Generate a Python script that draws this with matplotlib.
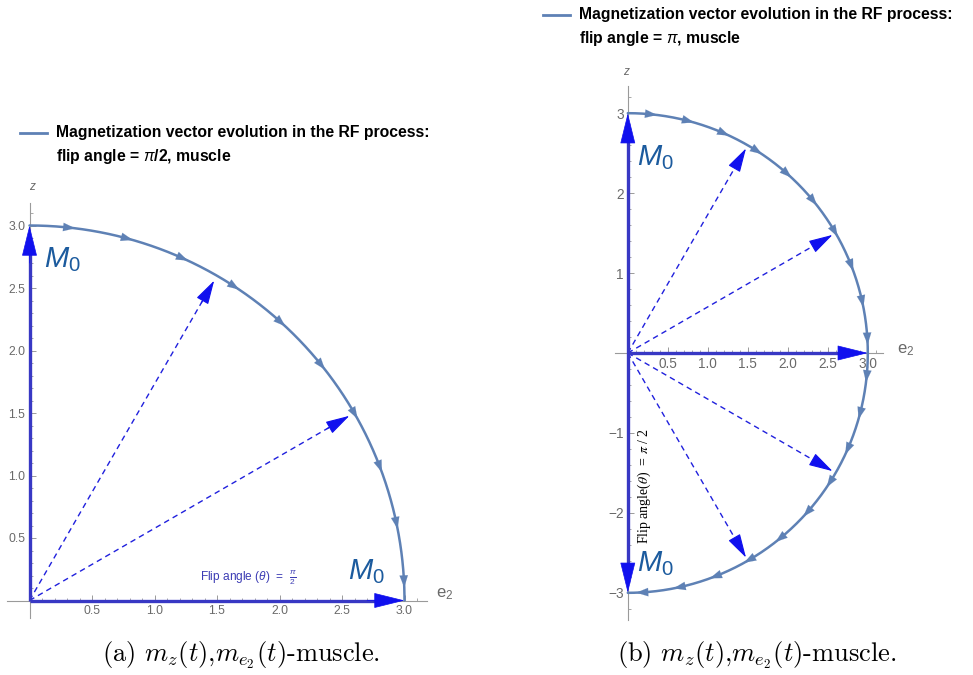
import numpy as np
import matplotlib
matplotlib.use("Agg")
import matplotlib.pyplot as plt
from matplotlib.patches import FancyArrowPatch
from matplotlib.lines import Line2D

plt.rcParams['font.family'] = ['Liberation Sans', 'DejaVu Sans']
plt.rcParams['mathtext.fontset'] = 'custom'
plt.rcParams['mathtext.rm'] = 'Liberation Sans'
plt.rcParams['mathtext.it'] = 'Liberation Sans:italic'
plt.rcParams['mathtext.bf'] = 'Liberation Sans:bold'

# ---- data ----
M0 = 3.0                                   # equilibrium magnetization magnitude
flip_a = 90.0                              # flip angle pi/2 (degrees, measured from z)
flip_b = 180.0                             # flip angle pi
snapshots_a = [30.0, 60.0]                 # intermediate vectors (degrees from z)
snapshots_b = [30.0, 60.0, 120.0, 150.0]
markers_a = [7, 16, 25, 34, 43, 52, 61, 70, 79, 88]
markers_b = markers_a + [97, 106, 115, 124, 133, 142, 151, 160, 169, 178]
xticks_a = [0.5, 1.0, 1.5, 2.0, 2.5, 3.0]
yticks_a = [0.5, 1.0, 1.5, 2.0, 2.5, 3.0]
xticks_b = [0.5, 1.0, 1.5, 2.0, 2.5, 3.0]
yticks_b = [-3, -2, -1, 1, 2, 3]
legend_a = ["Magnetization vector evolution in the RF process:",
            r"flip angle = $\pi$/2, muscle"]
legend_b = ["Magnetization vector evolution in the RF process:",
            r"flip angle = $\pi$, muscle"]
caption_a = r"$\text{(a) }m_z(t)\text{,}m_{e_2}(t)\text{-muscle.}$"
caption_b = r"$\text{(b) }m_z(t)\text{,}m_{e_2}(t)\text{-muscle.}$"

CURVE = '#5e81b5'
VEC = '#3838c4'
HEAD = '#1010ee'
DASH = '#2020dd'
MLAB = '#1c5b9e'
TICK = '#9a9a9a'
TLAB = '#6a6a6a'


def pt(theta_deg, r=M0):
    t = np.deg2rad(theta_deg)
    return r * np.sin(t), r * np.cos(t)


def style_axes(ax, xt, yt, xminor, yminor, lsize):
    for s in ('top', 'right'):
        ax.spines[s].set_visible(False)
    for s in ('left', 'bottom'):
        ax.spines[s].set_position(('data', 0))
        ax.spines[s].set_color(TICK)
        ax.spines[s].set_linewidth(0.8)
    ax.set_xticks(xt)
    ax.set_yticks(yt)
    ax.set_xticks(xminor, minor=True)
    ax.set_yticks(yminor, minor=True)
    ax.tick_params(which='major', direction='in', length=4, width=0.7,
                   color=TICK, labelcolor=TLAB, labelsize=lsize, pad=3)
    ax.tick_params(which='minor', direction='in', length=2.2, width=0.6,
                   color=TICK)
    ax.patch.set_alpha(0)


def vector(ax, p0, p1, color, lw, hl, hw, ms=10, z=4):
    a = FancyArrowPatch(p0, p1, arrowstyle=f'-|>,head_length={hl},head_width={hw}',
                        mutation_scale=ms, color=color, lw=lw,
                        shrinkA=0, shrinkB=0, zorder=z)
    ax.add_patch(a)


def axis_vector(ax, p1):
    ax.plot([0, p1[0] * 0.96], [0, p1[1] * 0.96], color=VEC, lw=2.4, zorder=4,
            solid_capstyle='butt')
    vector(ax, (p1[0] * 0.9, p1[1] * 0.9), p1, HEAD, 0.5, 1.7, 0.42, ms=12, z=4)


def dashed_vector(ax, theta):
    x, y = pt(theta, M0 * 0.985)
    ax.plot([0, x * 0.95], [0, y * 0.95], ls=(0, (4, 3)), color=DASH, lw=1.0, zorder=3)
    vector(ax, (x * 0.93, y * 0.93), (x, y), HEAD, 0.8, 1.5, 0.42, ms=10, z=4)


def curve(ax, end_deg, marks):
    th = np.linspace(0, end_deg, 400)
    x, y = pt(th)
    ax.plot(x, y, color=CURVE, lw=1.8, zorder=5, solid_capstyle='round')
    for m in marks:
        vector(ax, pt(m - 1.5), pt(m), CURVE, 0.1, 0.85, 0.3, ms=10, z=6)


# ---- figure ----
fig = plt.figure(figsize=(9.73, 6.75), dpi=100)

# panel (a): flip angle pi/2
axA = fig.add_axes([7 / 973, 1 - 618 / 675, 420 / 973, 415 / 675])
axA.set_xlim(-0.18, 3.18)
axA.set_ylim(-0.14, 3.18)
style_axes(axA, xticks_a, yticks_a,
           np.arange(0.1, 3.15, 0.1), np.arange(0.1, 3.15, 0.1), 8.8)
axA.set_yticklabels([f'{v:.1f}' for v in yticks_a])
axA.set_xticklabels([f'{v:.1f}' for v in xticks_a])

axis_vector(axA, (0, M0))
axis_vector(axA, pt(flip_a))
for s in snapshots_a:
    dashed_vector(axA, s)
curve(axA, flip_a, markers_a)

axA.text(0.12, 2.73, r'$M_0$', color=MLAB, fontsize=21, ha='left', va='center')
axA.text(2.55, 0.23, r'$M_0$', color=MLAB, fontsize=21, ha='left', va='center')
axA.text(1.36, 0.18, r'Flip angle ($\theta$)  =  $\frac{\pi}{2}$', color='#3c3cb4',
         fontsize=8.6, ha='left', va='center')
axA.text(3.25, 0.05, r'$\mathregular{e_2}$', color=TLAB, fontsize=12,
         ha='left', va='center', clip_on=False)
axA.text(0.02, 3.31, 'z', color=TLAB, fontsize=8.5, style='italic',
         ha='center', va='center', clip_on=False)

# panel (b): flip angle pi
axB = fig.add_axes([615 / 973, 1 - 620 / 675, 268 / 973, 534 / 675])
axB.set_xlim(-0.16, 3.19)
axB.set_ylim(-3.34, 3.34)
style_axes(axB, xticks_b, yticks_b,
           np.arange(0.1, 3.15, 0.1), np.arange(-3.2, 3.3, 0.2), 9.8)
axB.set_xticklabels([f'{v:.1f}' for v in xticks_b])
axB.set_yticklabels([f'{v:d}'.replace('-', '\u2212') for v in yticks_b])

axis_vector(axB, (0, M0))
axis_vector(axB, (0, -M0))
axis_vector(axB, pt(90.0))
for s in snapshots_b:
    dashed_vector(axB, s)
curve(axB, flip_b, markers_b)

axB.text(0.12, 2.45, r'$M_0$', color=MLAB, fontsize=21, ha='left', va='center')
axB.text(0.12, -2.63, r'$M_0$', color=MLAB, fontsize=21, ha='left', va='center')
axB.text(0.21, -1.66, r'Flip angle($\theta$)  = $\pi$ / 2', color='black',
         family=['Liberation Serif', 'DejaVu Serif'], math_fontfamily='stix',
         fontsize=10, rotation=90, ha='center', va='center')
axB.text(3.36, 0.04, r'$\mathregular{e_2}$', color=TLAB, fontsize=12,
         ha='left', va='center', clip_on=False)
axB.text(-0.02, 3.51, 'z', color=TLAB, fontsize=8.5, style='italic',
         ha='center', va='center', clip_on=False)

# legends
def legend(x0, y0, lines):
    fig.add_artist(Line2D([x0 / 973, (x0 + 27) / 973], [1 - y0 / 675] * 2,
                          color=CURVE, lw=2))
    for i, s in enumerate(lines):
        fig.text((x0 + 36) / 973, 1 - (y0 + 24 * i) / 675, s, fontsize=11.3,
                 fontweight='bold', ha='left', va='center')

legend(20, 133, legend_a)
legend(543, 15, legend_b)

# captions
fig.text(241 / 973, 1 - 655 / 675, caption_a, fontsize=19, math_fontfamily='cm',
         ha='center', va='center')
fig.text(757 / 973, 1 - 655 / 675, caption_b, fontsize=19, math_fontfamily='cm',
         ha='center', va='center')

fig.savefig('out.png', dpi=100)
